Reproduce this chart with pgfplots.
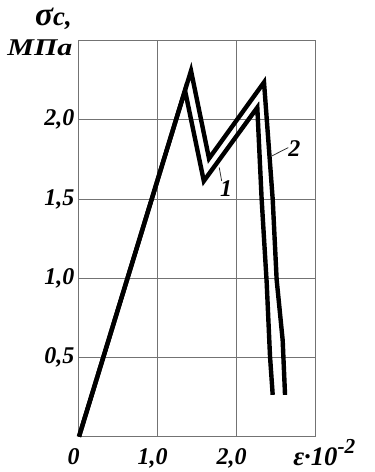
\documentclass[border=0pt]{standalone}
\usepackage{pgfplots}
\pgfplotsset{compat=1.18}
\usepackage{fontspec}
\setmainfont{Liberation Serif}
\newfontfamily\widefont[FakeStretch=1.25]{Liberation Serif}
\newcommand{\lbl}{\fontsize{18}{21}\selectfont\bfseries\itshape}
\begin{document}
\begin{tikzpicture}
\path[use as bounding box] (-59.25pt,-26.5pt) rectangle (222pt,327.5pt);
\begin{axis}[
  scale only axis,
  width=177.75pt, height=297pt,
  xmin=0, xmax=3, ymin=0, ymax=2.5,
  xtick={0,1,2}, xticklabels={0,{1,0},{2,0}},
  ytick={0.5,1,1.5,2}, yticklabels={{0,5},{1,0},{1,5},{2,0}},
  major tick length=0pt,
  grid=major,
  grid style={draw=black!55, line width=0.75pt},
  axis line style={draw=black!55, line width=0.75pt},
  ticklabel style={font=\lbl},
  xticklabel style={xshift=-4pt, yshift=-5pt},
  clip=false,
]
\addplot[black, line width=3.3pt, line join=miter, miter limit=20] coordinates {
  (0,0) (1.342,2.186) (1.58,1.614) (2.257,2.078) (2.312,1.498)
  (2.376,0.971) (2.418,0.506) (2.452,0.264)
};
\addplot[black, line width=3.3pt, line join=miter, miter limit=20] coordinates {
  (0,0) (1.418,2.31) (1.646,1.756) (2.342,2.237) (2.452,1.498)
  (2.502,0.99) (2.578,0.61) (2.608,0.264)
};
\draw[black!80, line width=0.6pt] (axis cs:1.775,1.70) -- (axis cs:1.806,1.614);
\node[font=\lbl] at (axis cs:1.861,1.566) {1};
\draw[black!80, line width=0.6pt] (axis cs:2.44,1.772) -- (axis cs:2.649,1.825);
\node[font=\lbl] at (axis cs:2.725,1.819) {2};
\node[anchor=base east, inner sep=0pt] at (axis cs:-0.089,2.595)
  {{\fontsize{25}{25}\selectfont\bfseries\itshape σ}{\fontsize{20}{22}\selectfont\bfseries\itshape c,}};
\node[anchor=base east, inner sep=0pt] at (axis cs:-0.08,2.405)
  {\widefont\fontsize{18}{21}\selectfont\bfseries\itshape МПа};
\node[anchor=base west, inner sep=0pt] at (axis cs:2.709,-0.179)
  {\fontsize{20}{22}\selectfont\bfseries\itshape ε·10\raisebox{0.45em}{\fontsize{16}{18}\selectfont -2}};
\end{axis}
\end{tikzpicture}
\end{document}
